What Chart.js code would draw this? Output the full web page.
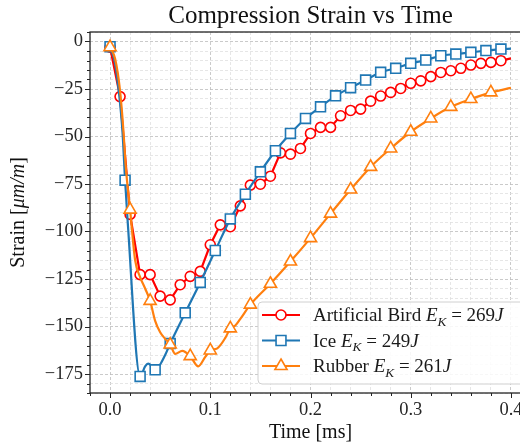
<!DOCTYPE html>
<html>
<head>
<meta charset="utf-8">
<script src="https://cdn.jsdelivr.net/npm/chart.js@4.4.1/dist/chart.umd.min.js"></script>
<style>
  html, body { margin: 0; padding: 0; background: #fff; overflow: hidden; }
  canvas { display: block; }
</style>
</head>
<body>
<canvas id="strainChart" width="560" height="447"></canvas>
<script>
// values (time in ms, strain in um/m)
const birdTime = [0, 0.01, 0.02, 0.03, 0.04, 0.05, 0.06, 0.07, 0.08, 0.09, 0.10,
  0.11, 0.12, 0.13, 0.14, 0.15, 0.16, 0.17, 0.18, 0.19, 0.20,
  0.21, 0.22, 0.23, 0.24, 0.25, 0.26, 0.27, 0.28, 0.29, 0.30,
  0.31, 0.32, 0.33, 0.34, 0.35, 0.36, 0.37, 0.38, 0.39, 0.40];
const birdStrain = [-3, -29, -91, -122.7, -122.7, -134, -136, -128, -123.6, -121, -107,
  -96.5, -97.5, -86.5, -75.6, -75.1, -70.9, -58.6, -59.3, -56.3, -48.4,
  -45.2, -45.2, -39.1, -36.3, -35.6, -31.4, -28.7, -26.8, -24.7, -22,
  -20.7, -18.5, -16.3, -15.4, -14.1, -12.4, -11.5, -11, -10.1, -8.9];

const iceTime = [0, 0.005, 0.0093, 0.0123, 0.015, 0.0175, 0.03, 0.035, 0.038, 0.042, 0.045,
  0.05, 0.055, 0.06, 0.075, 0.09, 0.105, 0.12, 0.135, 0.15, 0.165, 0.18, 0.195,
  0.21, 0.225, 0.24, 0.255, 0.27, 0.285, 0.30, 0.315, 0.33, 0.345, 0.36, 0.375, 0.39, 0.40];
const iceStrain = [-2.7, -11.5, -29, -46.6, -73, -94, -176.3, -171, -169.5, -171, -172.8,
  -170, -165, -159, -142.8, -126.8, -110, -93.4, -80.4, -68.6, -57.5, -48.4, -40.5,
  -34.4, -28.6, -24.3, -20.3, -16.2, -14.1, -11.5, -9.8, -7.5, -6.6, -5.7, -4.8, -4.0, -3.8];

const rubberTime = [0, 0.005, 0.01, 0.0133, 0.0157, 0.02, 0.025, 0.03, 0.035, 0.04,
  0.045, 0.05, 0.055, 0.06, 0.065, 0.072, 0.08, 0.088, 0.095, 0.10,
  0.107, 0.115, 0.12, 0.125, 0.13, 0.14, 0.16, 0.18, 0.20, 0.22, 0.24,
  0.26, 0.28, 0.30, 0.32, 0.34, 0.36, 0.38, 0.40];
const rubberStrain = [-3, -9, -26, -46.6, -66, -88.5, -115, -124, -130, -136.5,
  -147, -153, -156.5, -159.5, -164.4, -162.8, -165.6, -171, -166, -162.6,
  -161.5, -156, -151, -149.5, -146, -138.5, -127.5, -115.8, -103.5, -90.6, -77.9,
  -66, -56.3, -47.5, -40.5, -34.4, -30.3, -26.8, -24.4];

const seriesNames = ['Artificial Bird', 'Ice', 'Rubber'];
const impactEnergy = [269, 249, 261];

const xTicks = { min: -0.02, max: 0.42, step: 0.02, major: 0.1 };
const yTicks = { min: -185, max: 5, step: 5, major: 25 };

const SERIF = '"Liberation Serif", "DejaVu Serif", serif';
const AXIS_COLOR = '#262626';

function onStep(v, step) {
  const k = v / step;
  return Math.abs(k - Math.round(k)) < 1e-6;
}

function toPoints(ts, vs) {
  return ts.map((t, i) => ({ x: t, y: vs[i] }));
}

// markers only every `step` ms, and not on the last sample
function markerRadius(step, r) {
  return (ctx) => {
    const n = ctx.dataset.data.length;
    if (ctx.dataIndex === n - 1) return 0;
    return onStep(ctx.raw.x, step) ? r : 0;
  };
}

const styles = [
  { color: '#ff0000', shape: 'circle', r: 5, step: 0.01, tension: 0 },
  { color: '#1f77b4', shape: 'rect', r: 7, step: 0.015, tension: 0.3 },
  { color: '#ff7f0e', shape: 'triangle', r: 7, step: 0.02, tension: 0.3 }
];

const seriesData = [
  toPoints(birdTime, birdStrain),
  toPoints(iceTime, iceStrain),
  toPoints(rubberTime, rubberStrain)
];

const datasets = seriesData.map((pts, i) => ({
  label: seriesNames[i],
  data: pts,
  borderColor: styles[i].color,
  backgroundColor: '#ffffff',
  borderWidth: 2.2,
  pointStyle: styles[i].shape,
  pointRadius: markerRadius(styles[i].step, styles[i].r),
  pointBorderWidth: 1.6,
  pointBackgroundColor: '#ffffff',
  pointBorderColor: styles[i].color,
  cubicInterpolationMode: i === 0 ? 'default' : 'monotone',
  tension: styles[i].tension,
  order: 2 - i
}));

function drawMarker(ctx, shape, x, y, r, color) {
  ctx.save();
  ctx.fillStyle = '#fff';
  ctx.strokeStyle = color;
  ctx.lineWidth = 1.6;
  ctx.beginPath();
  if (shape === 'circle') {
    ctx.arc(x, y, r, 0, Math.PI * 2);
  } else if (shape === 'rect') {
    const s = r * Math.SQRT1_2;
    ctx.rect(x - s, y - s, 2 * s, 2 * s);
  } else {
    const a = -Math.PI / 2;
    for (let k = 0; k < 3; k++) {
      const ang = a + k * 2 * Math.PI / 3;
      const px = x + r * Math.cos(ang), py = y + r * Math.sin(ang);
      k === 0 ? ctx.moveTo(px, py) : ctx.lineTo(px, py);
    }
    ctx.closePath();
  }
  ctx.fill();
  ctx.stroke();
  ctx.restore();
}

function drawParts(ctx, parts, x, y, size) {
  let cx = x;
  parts.forEach(p => {
    const fs = p.sub ? size * 0.7 : size;
    ctx.font = (p.italic ? 'italic ' : '') + fs + 'px ' + SERIF;
    ctx.fillText(p.text, cx, y + (p.sub ? size * 0.25 : 0));
    cx += ctx.measureText(p.text).width;
  });
  return cx - x;
}

function partsWidth(ctx, parts, size) {
  let w = 0;
  parts.forEach(p => {
    const fs = p.sub ? size * 0.7 : size;
    ctx.font = (p.italic ? 'italic ' : '') + fs + 'px ' + SERIF;
    w += ctx.measureText(p.text).width;
  });
  return w;
}

const decor = {
  id: 'decor',
  afterDatasetsDraw(chart) {
    const ctx = chart.ctx;
    // legend box, lower right
    const bx = 258, by = 302, bw = 272, bh = 82;
    ctx.save();
    ctx.beginPath();
    ctx.roundRect(bx, by, bw, bh, 4);
    ctx.fillStyle = 'rgba(255,255,255,0.85)';
    ctx.fill();
    ctx.strokeStyle = '#d0d0d0';
    ctx.lineWidth = 1;
    ctx.stroke();
    const rows = [315, 340.5, 366];
    seriesNames.forEach((name, i) => {
      const y = rows[i];
      const st = styles[i];
      ctx.strokeStyle = st.color;
      ctx.lineWidth = 2.2;
      ctx.beginPath();
      ctx.moveTo(262, y);
      ctx.lineTo(300, y);
      ctx.stroke();
      drawMarker(ctx, st.shape, 281, y, st.r, st.color);
      ctx.fillStyle = '#1a1a1a';
      ctx.textBaseline = 'alphabetic';
      ctx.textAlign = 'left';
      drawParts(ctx, [
        { text: name + ' ' },
        { text: 'E', italic: true },
        { text: 'K', italic: true, sub: true },
        { text: ' = ' + impactEnergy[i] },
        { text: 'J', italic: true }
      ], 313, y + 6, 19);
    });
    ctx.restore();
  },
  afterDraw(chart) {
    const ctx = chart.ctx;
    const { left, right, top, bottom } = chart.chartArea;
    const xs = chart.scales.x, ys = chart.scales.y;
    ctx.save();
    // frame
    ctx.strokeStyle = AXIS_COLOR;
    ctx.lineWidth = 1.3;
    ctx.strokeRect(left, top, right - left, bottom - top);
    // ticks
    ctx.lineWidth = 1;
    xs.ticks.forEach(t => {
      const px = Math.round(xs.getPixelForValue(t.value)) + 0.5;
      const len = onStep(t.value, xTicks.major) ? 5 : 3;
      ctx.beginPath();
      ctx.moveTo(px, bottom);
      ctx.lineTo(px, bottom + len);
      ctx.stroke();
    });
    ys.ticks.forEach(t => {
      const py = Math.round(ys.getPixelForValue(t.value)) + 0.5;
      const len = onStep(t.value, yTicks.major) ? 5 : 3;
      ctx.beginPath();
      ctx.moveTo(left, py);
      ctx.lineTo(left - len, py);
      ctx.stroke();
    });
    // title
    ctx.fillStyle = '#111';
    ctx.textAlign = 'center';
    ctx.textBaseline = 'alphabetic';
    ctx.font = '25px ' + SERIF;
    ctx.fillText('Compression Strain vs Time', (left + right) / 2, 23);
    // y axis label with italic unit
    const yParts = [{ text: 'Strain [' }, { text: 'μm/m', italic: true }, { text: ']' }];
    ctx.translate(19, (top + bottom) / 2);
    ctx.rotate(-Math.PI / 2);
    ctx.textAlign = 'left';
    ctx.textBaseline = 'middle';
    const w = partsWidth(ctx, yParts, 20);
    drawParts(ctx, yParts, -w / 2, 0, 20);
    ctx.restore();
  }
};

function gridColor(major) {
  return (ctx) => ctx.tick && onStep(ctx.tick.value, major) ? '#bdbdbd' : '#e0e0e0';
}

new Chart(document.getElementById('strainChart'), {
  type: 'line',
  data: { datasets },
  options: {
    responsive: false,
    animation: false,
    devicePixelRatio: 1,
    events: [],
    layout: { padding: { top: 32, right: 29, left: 0, bottom: 0 } },
    plugins: { legend: { display: false }, tooltip: { enabled: false } },
    scales: {
      x: {
        type: 'linear',
        min: xTicks.min,
        max: xTicks.max,
        afterFit: (s) => { s.height = 54; },
        ticks: {
          stepSize: xTicks.step,
          autoSkip: false,
          maxRotation: 0,
          padding: 6,
          color: AXIS_COLOR,
          font: { family: SERIF, size: 18.5 },
          callback: (v) => onStep(v, xTicks.major) ? Number(v).toFixed(1) : ''
        },
        grid: { color: gridColor(xTicks.major), lineWidth: 0.8, drawTicks: false },
        border: { display: false, dash: [3, 2] },
        title: {
          display: true,
          text: 'Time [ms]',
          color: '#111',
          font: { family: SERIF, size: 20 },
          padding: { top: 0, bottom: 2 }
        }
      },
      y: {
        type: 'linear',
        min: yTicks.min,
        max: yTicks.max,
        afterFit: (s) => { s.width = 90; },
        ticks: {
          stepSize: yTicks.step,
          autoSkip: false,
          padding: 7,
          color: AXIS_COLOR,
          font: { family: SERIF, size: 18.5 },
          callback: (v) => {
            if (!onStep(v, yTicks.major)) return '';
            const r = Math.round(v);
            return r < 0 ? '\u2212' + Math.abs(r) : String(r);
          }
        },
        grid: { color: gridColor(yTicks.major), lineWidth: 0.8, drawTicks: false },
        border: { display: false, dash: [3, 2] }
      }
    }
  },
  plugins: [decor]
});
</script>
</body>
</html>
